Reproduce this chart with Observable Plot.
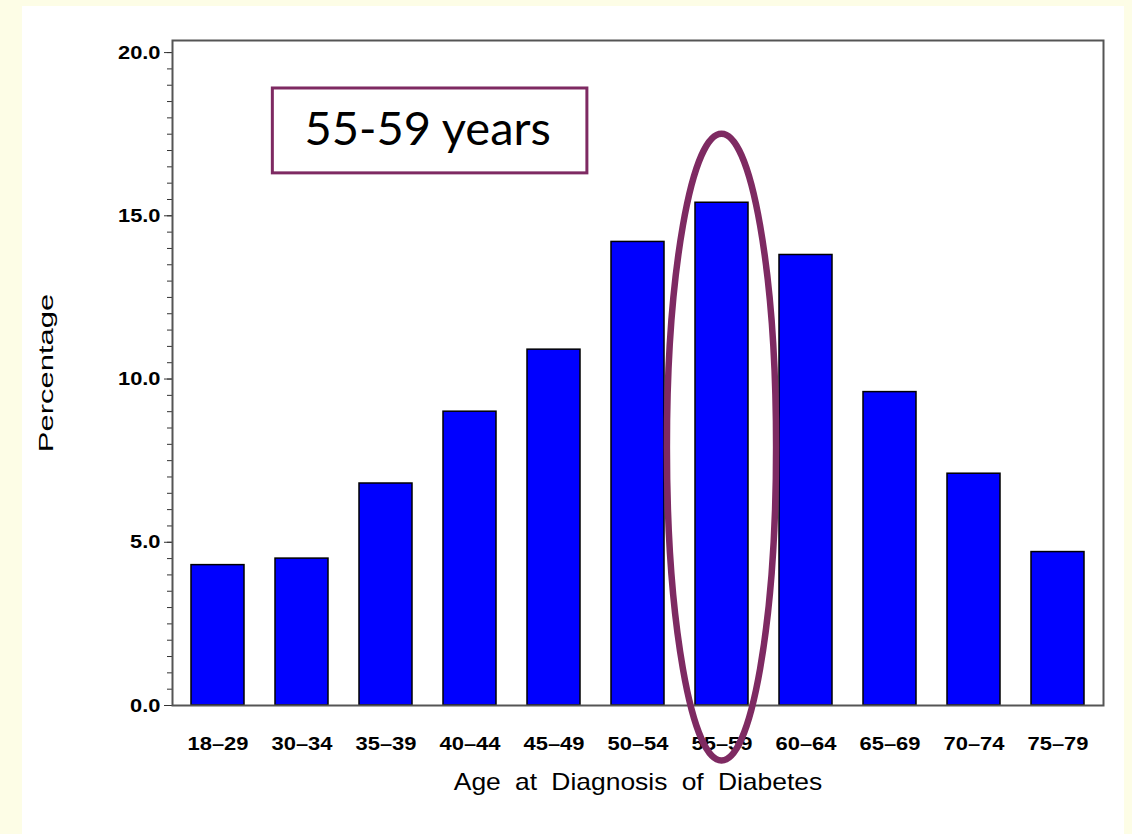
<!DOCTYPE html>
<html>
<head>
<meta charset="utf-8">
<script src="https://cdn.jsdelivr.net/npm/d3@7"></script>
<script src="https://cdn.jsdelivr.net/npm/@observablehq/plot@0.6"></script>
<style>
  html, body { margin: 0; padding: 0; width: 1132px; height: 834px; background: #fdfde6; overflow: hidden; }
  #panel { position: absolute; left: 22px; top: 6px; width: 1102px; height: 828px; background: #ffffff; }
  #chart { position: absolute; left: 0; top: 0; }
</style>
</head>
<body>
<div id="panel"></div>
<div id="chart"></div>
<script>
// ---- data ----
const categories = ["18-29", "30-34", "35-39", "40-44", "45-49", "50-54", "55-59", "60-64", "65-69", "70-74", "75-79"];
const percentages = [4.3, 4.5, 6.8, 9.0, 10.9, 14.2, 15.4, 13.8, 9.6, 7.1, 4.7];
const yTicks = [0, 5, 10, 15, 20];
const yTickLabels = ["0.0", "5.0", "10.0", "15.0", "20.0"];
const yMinorTicks = d3.range(0, 20.01, 0.5);
const xTitle = "Age at Diagnosis of Diabetes";
const yTitle = "Percentage";
const highlight = "55-59";
const annotationText = "55-59 years";

const data = categories.map((c, i) => ({age: c, pct: percentages[i]}));
const maroon = "#7e2a62";
const font = "'Liberation Sans', Arial, sans-serif";

const chart = Plot.plot({
  width: 1132,
  height: 834,
  marginLeft: 172,
  marginRight: 29,
  marginTop: 40,
  marginBottom: 129,
  style: {background: "transparent", fontFamily: font, color: "#000"},
  x: {domain: categories, paddingInner: 0.374, paddingOuter: 0.187, label: null},
  y: {domain: [0, 20.37], label: null},
  marks: [
    Plot.barY(data, {x: "age", y: "pct", fill: "#0000ff", stroke: "#000", strokeWidth: 1.5}),
    Plot.axisY(yMinorTicks, {tickSize: 5, tickFormat: () => "", stroke: "#333"}),
    Plot.axisY(yTicks, {tickSize: 8, tickPadding: 4, fontSize: 19, fontWeight: "bold",
      tickFormat: (d) => yTickLabels[yTicks.indexOf(d)], stroke: "#333"}),
    Plot.axisX({tickSize: 0, tickPadding: 32, fontSize: 18, fontWeight: "bold",
      tickFormat: (d) => d.replace("-", "\u2013")}),
    Plot.frame({stroke: "#555", strokeWidth: 2}),
    Plot.text([xTitle], {frameAnchor: "bottom", dy: 84, fontSize: 23, fill: "#000"}),
    Plot.text([yTitle], {frameAnchor: "left", textAnchor: "middle", rotate: -90, dx: -126, fontSize: 20, fill: "#000"})
  ]
});

document.getElementById("chart").appendChild(chart);

// ---- annotations derived from scales ----
const sx = chart.scale("x");
const sy = chart.scale("y");
const bw = sx.bandwidth;
const svg = d3.select(chart);

// ellipse around highlighted bar
const yTop = 17.5, yBot = -1.7;
svg.append("ellipse")
  .attr("cx", sx.apply(highlight) + bw / 2)
  .attr("cy", (sy.apply(yTop) + sy.apply(yBot)) / 2)
  .attr("rx", bw * 1.03)
  .attr("ry", (sy.apply(yBot) - sy.apply(yTop)) / 2)
  .attr("fill", "none")
  .attr("stroke", maroon)
  .attr("stroke-width", 6.5);

// annotation box
const bx1 = sx.apply("30-34") - 0.05 * bw;
const bx2 = sx.apply("45-49") + bw * 1.13;
const by1 = sy.apply(18.9), by2 = sy.apply(16.3);
svg.append("rect")
  .attr("x", bx1).attr("y", by1)
  .attr("width", bx2 - bx1).attr("height", by2 - by1)
  .attr("fill", "#fff").attr("stroke", maroon).attr("stroke-width", 3);
svg.append("text")
  .attr("x", (bx1 + bx2) / 2 - 2)
  .attr("y", sy.apply(17.15))
  .attr("text-anchor", "middle")
  .attr("font-family", "Lato, 'Open Sans', sans-serif")
  .attr("font-size", 47)
  .attr("fill", "#000")
  .text(annotationText);

// widen lettering like the reference's SAS font (scale along text direction)
function widen(sel, k) {
  sel.each(function() {
    const t = this.getAttribute("transform") || "";
    this.setAttribute("transform", (t + ` scale(${k},1)`).trim());
  });
}
widen(svg.selectAll("text").filter(function() { return this.textContent === yTitle; }), 1.55);
const xt = svg.selectAll("text").filter(function() { return this.textContent === xTitle; });
xt.style("word-spacing", "6px");
widen(xt, 1.15);
widen(svg.selectAll('g[aria-label="x-axis tick label"] text'), 1.22);
widen(svg.selectAll('g[aria-label="y-axis tick label"] text'), 1.15);
</script>
</body>
</html>
